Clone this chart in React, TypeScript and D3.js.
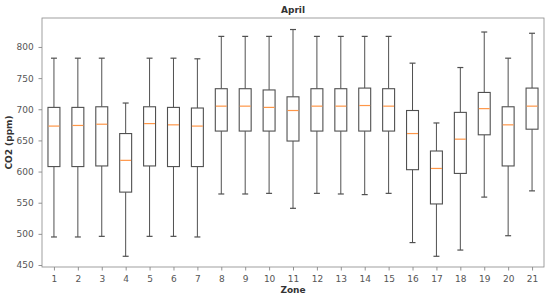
import React, { useEffect, useRef } from "react";
import * as d3 from "d3";

// five-number summaries, zones 1..21
const zones = [1, 2, 3, 4, 5, 6, 7, 8, 9, 10, 11, 12, 13, 14, 15, 16, 17, 18, 19, 20, 21];
const whiskerLow = [495, 495, 496, 464, 496, 496, 495, 564, 564, 565, 541, 565, 564, 563, 565, 486, 464, 474, 559, 497, 569];
const q1 = [608, 608, 609, 567, 609, 608, 608, 665, 665, 665, 649, 665, 665, 665, 665, 603, 548, 597, 659, 609, 668];
const median = [673, 674, 676, 618, 677, 675, 673, 705, 705, 703, 698, 705, 705, 706, 705, 661, 605, 652, 701, 675, 705];
const q3 = [703, 703, 704, 661, 704, 703, 702, 733, 733, 731, 720, 733, 733, 734, 733, 698, 633, 695, 727, 704, 734];
const whiskerHigh = [782, 782, 782, 710, 782, 782, 781, 817, 817, 817, 828, 817, 817, 817, 817, 774, 678, 767, 824, 782, 822];
const yTicks = [450, 500, 550, 600, 650, 700, 750, 800];

const W = 550;
const H = 298;
const margin = { top: 18, right: 6, bottom: 31, left: 42 };

const App = () => {
  const svgRef = useRef<SVGSVGElement>(null);

  useEffect(() => {
    const svg = d3.select(svgRef.current);
    svg.selectAll("*").remove();
    const font = "DejaVu Sans, sans-serif";

    const x = d3
      .scaleLinear()
      .domain([0.5, 21.5])
      .range([margin.left, W - margin.right]);
    const y = d3
      .scaleLinear()
      .domain([446.8, 846.5])
      .range([H - margin.bottom, margin.top]);

    const boxW = x(1.5) - x(1); // matplotlib default width 0.5

    const xAxis = svg
      .append("g")
      .attr("transform", `translate(0,${H - margin.bottom})`)
      .call(d3.axisBottom(x).tickValues(zones).tickFormat(d3.format("d")).tickSize(3.5).tickSizeOuter(0));
    const yAxis = svg
      .append("g")
      .attr("transform", `translate(${margin.left},0)`)
      .call(d3.axisLeft(y).tickValues(yTicks).tickSize(3.5).tickSizeOuter(0));

    [xAxis, yAxis].forEach((g) => {
      g.select(".domain").remove();
      g.selectAll(".tick line").attr("stroke", "#777").attr("stroke-width", 0.8);
      g.selectAll(".tick text")
        .attr("fill", "#555")
        .attr("font-size", 9)
        .attr("font-family", font);
    });
    xAxis.selectAll(".tick text").attr("dy", "0.9em");
    yAxis.selectAll(".tick text").attr("dx", "-0.2em");

    // frame
    svg
      .append("rect")
      .attr("x", margin.left)
      .attr("y", margin.top)
      .attr("width", W - margin.left - margin.right)
      .attr("height", H - margin.top - margin.bottom)
      .attr("fill", "none")
      .attr("stroke", "#888")
      .attr("stroke-width", 0.8);

    const g = svg.append("g");
    zones.forEach((z, i) => {
      const cx = x(z);
      const stroke = "#505050";
      // whiskers
      g.append("line")
        .attr("x1", cx).attr("x2", cx)
        .attr("y1", y(whiskerHigh[i])).attr("y2", y(q3[i]))
        .attr("stroke", stroke).attr("stroke-width", 1);
      g.append("line")
        .attr("x1", cx).attr("x2", cx)
        .attr("y1", y(q1[i])).attr("y2", y(whiskerLow[i]))
        .attr("stroke", stroke).attr("stroke-width", 1);
      // caps
      [whiskerHigh[i], whiskerLow[i]].forEach((v) => {
        g.append("line")
          .attr("x1", cx - boxW / 4).attr("x2", cx + boxW / 4)
          .attr("y1", y(v)).attr("y2", y(v))
          .attr("stroke", stroke).attr("stroke-width", 1.2);
      });
      // box
      g.append("rect")
        .attr("x", cx - boxW / 2)
        .attr("y", y(q3[i]))
        .attr("width", boxW)
        .attr("height", y(q1[i]) - y(q3[i]))
        .attr("fill", "white")
        .attr("stroke", stroke)
        .attr("stroke-width", 1.1);
      // median
      g.append("line")
        .attr("x1", cx - boxW / 2 + 0.5).attr("x2", cx + boxW / 2 - 0.5)
        .attr("y1", y(median[i])).attr("y2", y(median[i]))
        .attr("stroke", "#ff9647").attr("stroke-width", 1.2);
    });

    // labels
    svg
      .append("text")
      .attr("x", (margin.left + W - margin.right) / 2)
      .attr("y", 13)
      .attr("text-anchor", "middle")
      .attr("font-family", font)
      .attr("font-weight", "bold")
      .attr("font-size", 9)
      .attr("fill", "#333")
      .text("April");

    svg
      .append("text")
      .attr("x", (margin.left + W - margin.right) / 2)
      .attr("y", 293)
      .attr("text-anchor", "middle")
      .attr("font-family", font)
      .attr("font-weight", "bold")
      .attr("font-size", 9)
      .attr("fill", "#333")
      .text("Zone");

    svg
      .append("text")
      .attr("transform", `translate(12,${(margin.top + H - margin.bottom) / 2}) rotate(-90)`)
      .attr("text-anchor", "middle")
      .attr("font-family", font)
      .attr("font-weight", "bold")
      .attr("font-size", 9)
      .attr("fill", "#333")
      .text("CO2 (ppm)");
  }, []);

  return (
    <svg
      ref={svgRef}
      width={W}
      height={H}
      style={{ position: "absolute", left: 0, top: 0, background: "white" }}
    ></svg>
  );
};

export default App;
